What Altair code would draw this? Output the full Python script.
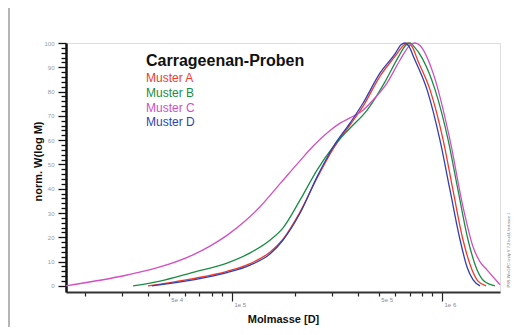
import altair as alt
import pandas as pd

# ---- data (molar mass in D, normalised W(log M)) ----
M_A = [39800, 65200, 94600, 122000, 152000, 175000, 211000, 254000, 303000,
       365000, 421000, 507000, 597000, 659000, 689000, 720000, 769000, 877000,
       1012000, 1127000, 1259000, 1390000, 1483000, 1622000]
W_A = [0, 3.0, 6.0, 9.2, 14.0, 19.3, 30.5, 44.4, 56.4,
       66.3, 74.0, 86.4, 94.5, 99.2, 100, 98.5, 92.5, 80.7,
       60.1, 39.5, 18.9, 6.6, 2.0, 0]

M_B = [33800, 45400, 65200, 94600, 122000, 152000, 175000, 211000, 254000, 303000,
       365000, 440000, 535000, 617000, 674000, 705000, 736000, 804000, 927000,
       1069000, 1191000, 1330000, 1469000, 1585000, 1786000]
W_B = [0, 2.0, 5.6, 9.4, 13.6, 18.9, 23.9, 35.4, 47.7, 57.2,
       65.0, 72.4, 84.0, 94.0, 99.2, 100, 98.5, 93.8, 80.7,
       60.1, 39.5, 18.9, 6.6, 2.0, 0]

M_C = [16200, 31600, 45400, 65200, 78500, 94600, 115000, 136000, 169000, 211000,
       243000, 293000, 327000, 365000, 416000, 469000, 547000, 631000, 705000,
       743000, 785000, 906000, 1091000, 1259000, 1406000, 1517000, 1637000, 1888000]
W_C = [0, 4.5, 7.8, 12.8, 16.4, 20.8, 26.6, 32.6, 42.0, 51.6,
       57.5, 64.0, 67.0, 69.2, 72.0, 76.5, 83.5, 93.0, 99.2,
       100, 99.0, 87.7, 60.1, 32.5, 16.0, 9.9, 6.6, 0.5]

M_D = [41600, 65200, 94600, 122000, 152000, 175000, 211000, 254000, 303000,
       365000, 421000, 507000, 597000, 638000, 667000, 697000, 736000, 849000,
       977000, 1091000, 1219000, 1315000, 1406000, 1517000]
W_D = [0, 2.5, 5.5, 8.6, 13.2, 18.9, 30.0, 44.9, 57.2,
       67.1, 75.3, 87.7, 95.5, 99.3, 100, 98.5, 93.8, 80.7,
       60.1, 39.5, 18.9, 7.8, 2.5, 0]

NAMES = ["Muster A", "Muster B", "Muster C", "Muster D"]
COLORS = ["#f03a2a", "#1a8c43", "#d24fc4", "#2f3fb5"]
LEGEND_TITLE = "Carrageenan-Proben"

X_TICKS = [20000, 30000, 40000, 50000, 60000, 70000, 80000, 90000,
           100000, 200000, 300000, 400000, 500000, 600000, 700000, 800000, 900000,
           1000000]
Y_TICKS = list(range(0, 101, 2))

rows = []
for name, ms, ws in zip(NAMES, [M_A, M_B, M_C, M_D], [W_A, W_B, W_C, W_D]):
    for m, w in zip(ms, ws):
        rows.append({"Probe": name, "M": m, "W": w})
df = pd.DataFrame(rows)

x_label_expr = ("datum.value == 50000 ? '5e 4' : datum.value == 100000 ? '1e 5' : "
                "datum.value == 500000 ? '5e 5' : datum.value == 1000000 ? '1e 6' : ''")

lines = alt.Chart(df).mark_line(strokeWidth=1.3, interpolate="monotone").encode(
    x=alt.X("M:Q",
            scale=alt.Scale(type="log", domain=[16200, 1888000], nice=False),
            axis=alt.Axis(values=X_TICKS, labelExpr=x_label_expr, title="Molmasse [D]",
                          titleFont="Liberation Sans", titleFontSize=11, titleFontWeight="bold",
                          titleColor="#111", titleY=21, titleBaseline="top",
                          tickSize={"condition": {"test": "datum.value == 100000 || datum.value == 1000000",
                                                  "value": 9}, "value": 4},
                          tickColor="#222", tickWidth=1.2, domainColor="#333", domainWidth=2,
                          labelFontSize=6, labelColor="#888", labelAlign="left", labelOffset=2,
                          labelPadding=0, labelOverlap=False, labelFlush=False, grid=False)),
    y=alt.Y("W:Q",
            scale=alt.Scale(domain=[-2.5, 100], nice=False, zero=False),
            axis=alt.Axis(values=Y_TICKS,
                          labelExpr="datum.value % 10 == 0 ? datum.value : ''",
                          title="norm. W(log M)",
                          titleFont="Liberation Sans", titleFontSize=11, titleFontWeight="bold",
                          titleColor="#111", titleX=-28, titleY=118,
                          titleAlign="center", titleBaseline="middle", titleAngle=270,
                          tickSize={"condition": {"test": "datum.value % 10 == 0", "value": 8},
                                    "value": 5},
                          tickColor="#111", tickWidth=1.3, domainColor="#111", domainWidth=2.5,
                          labelFontSize=6, labelColor="#999", labelPadding=4,
                          labelOverlap=False, labelFlush=False, grid=False)),
    color=alt.Color("Probe:N", scale=alt.Scale(domain=NAMES, range=COLORS), legend=None),
)

layers = [lines]

# legend-like annotation text
layers.append(alt.Chart(pd.DataFrame({"t": [LEGEND_TITLE]})).mark_text(
    align="left", baseline="alphabetic", font="Liberation Sans", fontSize=16,
    fontWeight="bold", color="#111").encode(
    x=alt.value(80), y=alt.value(23), text="t:N"))
for i, (name, col) in enumerate(zip(NAMES, COLORS)):
    layers.append(alt.Chart(pd.DataFrame({"t": [name]})).mark_text(
        align="left", baseline="alphabetic", font="Liberation Sans", fontSize=12,
        color=col).encode(x=alt.value(80), y=alt.value(39 + 14.8 * i), text="t:N"))

# small rotated software note on the right
layers.append(alt.Chart(pd.DataFrame({"t": ["PSS WinGPC unity  V 7.2 build, Instance 1"]})).mark_text(
    angle=270, align="center", baseline="middle", fontSize=4, color="#777",
    font="Liberation Sans").encode(x=alt.value(443), y=alt.value(207), text="t:N"))

# page border line on the left
layers.append(alt.Chart(pd.DataFrame({"a": [0]})).mark_rule(color="#b5b5b5", strokeWidth=2).encode(
    x=alt.value(-57), y=alt.value(-36), y2=alt.value(285)))

chart = alt.layer(*layers).properties(
    width=434, height=249,
    padding={"left": 58, "top": 35, "right": 22, "bottom": 35},
    autosize="none",
).configure_view(stroke="#444", strokeWidth=2).configure(background="white")

chart.save("out.html", embed_options={"renderer": "svg", "actions": False})
